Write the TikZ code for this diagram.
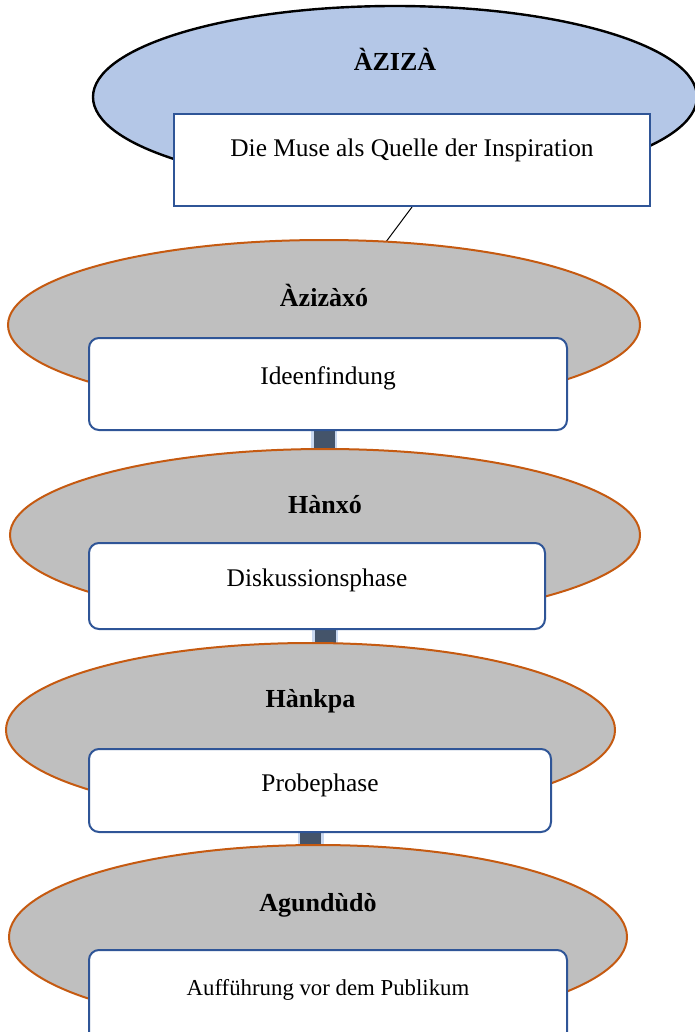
\documentclass[tikz,border=0pt]{standalone}
\usepackage{fontspec}
\setmainfont{Liberation Serif}
\usetikzlibrary{shapes.geometric,backgrounds}

\definecolor{musefill}{HTML}{B4C7E7}
\definecolor{phasefill}{HTML}{BFBFBF}
\definecolor{phaseline}{HTML}{C55A11}
\definecolor{boxline}{HTML}{2F5597}
\definecolor{stemdark}{HTML}{44546A}
\definecolor{stemglow}{HTML}{C9D8F0}

\tikzset{
  muse/.style={ellipse, draw=black, line width=1.2pt, fill=musefill, inner sep=0pt},
  phase/.style={ellipse, draw=phaseline, line width=1pt, fill=phasefill, inner sep=0pt},
  musebox/.style={rectangle, draw=boxline, line width=1pt, fill=white, inner sep=0pt},
  phasebox/.style={musebox, rounded corners=5pt},
  title/.style={font=\fontsize{13}{15}\selectfont\bfseries, inner sep=0pt, text height=0.7em, text depth=0.2em},
  boxtext/.style={font=\fontsize{12.7}{15}\selectfont, inner sep=0pt, text height=0.7em, text depth=0.2em},
  stem/.style={stemdark, line width=10.5pt, preaction={draw=stemglow, line width=13pt}},
  link/.style={black, line width=0.5pt}
}

\begin{document}
\begin{tikzpicture}[x=0.5pt, y=-0.5pt]
  \useasboundingbox (0,0) rectangle (695,1032);
  \node[muse, minimum width=302pt, minimum height=91pt] (aziza) at (395,97) {};
  \node[title] (azizaT) at ([yshift=-30.5pt]aziza.north) {ÀZIZÀ};
  \node[musebox, minimum width=238pt, minimum height=46pt] (muse) at (412,160) {};
  \node[boxtext] (museT) at ([yshift=-19.5pt]muse.north) {Die Muse als Quelle der Inspiration};

  \node[phase, minimum width=316pt, minimum height=85pt] (azizaxo) at (324,325) {};
  \node[title] (azizaxoT) at ([yshift=-31pt]azizaxo.north) {Àzizàxó};
  \node[phasebox, minimum width=239pt, minimum height=46pt] (ideas) at (328,384) {};
  \node[boxtext] (ideasT) at ([yshift=-21pt]ideas.north) {Ideenfindung};

  \node[phase, minimum width=315pt, minimum height=86pt] (hanxo) at (325,535) {};
  \node[title] (hanxoT) at ([yshift=-30pt]hanxo.north) {Hànxó};
  \node[phasebox, minimum width=228pt, minimum height=43pt] (talk) at (317,586) {};
  \node[boxtext] (talkT) at ([yshift=-19.5pt]talk.north) {Diskussionsphase};

  \node[phase, minimum width=304.5pt, minimum height=87pt] (hankpa) at (310.5,730) {};
  \node[title] (hankpaT) at ([yshift=-30pt]hankpa.north) {Hànkpa};
  \node[phasebox, minimum width=231pt, minimum height=41.5pt] (rehearse) at (320,790.5) {};
  \node[boxtext] (rehearseT) at ([yshift=-19pt]rehearse.north) {Probephase};

  \node[phase, minimum width=309pt, minimum height=92pt] (agundudo) at (318,937) {};
  \node[title] (agundudoT) at ([yshift=-31pt]agundudo.north) {Agundùdò};
  \node[phasebox, minimum width=239pt, minimum height=46pt] (stage) at (328,996) {};
  \node[boxtext, font=\fontsize{11.4}{14}\selectfont] (stageT) at ([yshift=-20.5pt]stage.north) {Aufführung vor dem Publikum};

  \begin{pgfonlayer}{background}
    \draw[link] (muse.south) -- (azizaxo.center);
    \draw[stem] (azizaxo.center) -- (azizaxo.center |- hanxo.center);
    \draw[stem] (hanxo.center) -- (hanxo.center |- hankpa.center);
    \draw[stem] (hankpa.center) -- (hankpa.center |- agundudo.center);
  \end{pgfonlayer}
\end{tikzpicture}
\end{document}
